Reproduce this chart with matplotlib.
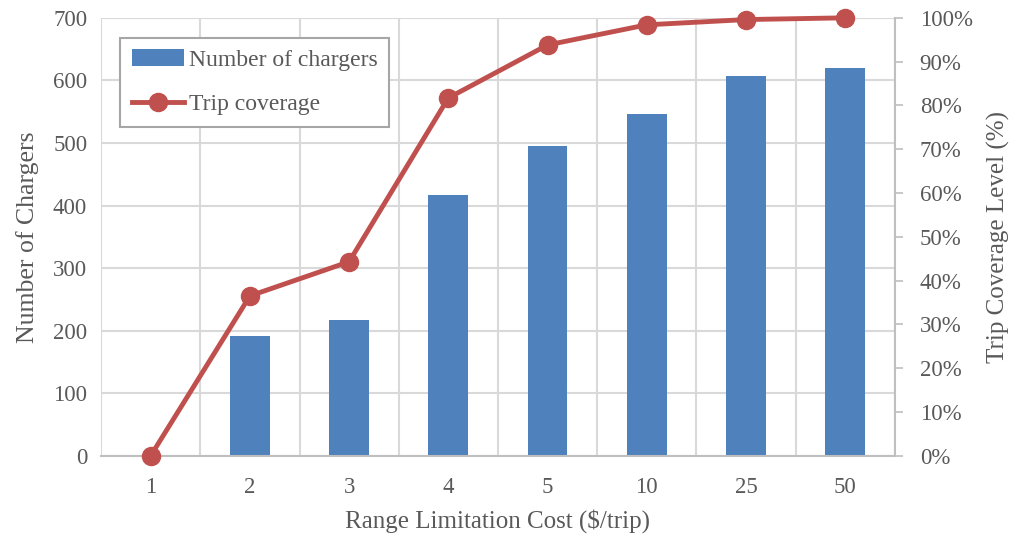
import numpy as np
import matplotlib.pyplot as plt
from matplotlib.ticker import PercentFormatter

plt.rcParams['font.family'] = ['Liberation Serif', 'DejaVu Serif']

categories = ['1', '2', '3', '4', '5', '10', '25', '50']
chargers = [0, 192, 217, 417, 495, 547, 607, 619]
coverage = [0.0, 36.5, 44.3, 81.7, 93.8, 98.4, 99.6, 100.0]

grey = '#595959'
bar_color = '#4f81bd'
line_color = '#c0504d'

fig = plt.figure(figsize=(10.11, 5.4), dpi=100)
ax = fig.add_axes([0.1, 0.156, 0.785, 0.811])
ax2 = ax.twinx()

x = np.arange(len(categories))
ax.bar(x, chargers, width=0.4, color=bar_color, label='Number of chargers', zorder=2)
ax2.plot(x, coverage, color=line_color, lw=3.5, marker='o', ms=13,
         label='Trip coverage', zorder=3, clip_on=False)

ax.set_xlim(-0.5, len(categories) - 0.5)
ax.set_ylim(0, 700)
ax2.set_ylim(0, 100)
ax.set_yticks(range(0, 701, 100))
ax2.set_yticks(range(0, 101, 10))
ax2.yaxis.set_major_formatter(PercentFormatter(decimals=0))

ax.set_xticks(x)
ax.set_xticklabels(categories)
ax.set_xticks(np.arange(-0.5, len(categories)), minor=True)
ax.grid(True, which='minor', axis='x', color='#d9d9d9', lw=1.5, zorder=0)
ax.grid(True, which='major', axis='y', color='#d9d9d9', lw=1.5, zorder=0)
ax.set_axisbelow(True)

for a in (ax, ax2):
    for s in a.spines.values():
        s.set_visible(False)
ax.spines['bottom'].set_visible(True)
ax.spines['bottom'].set_color('#bfbfbf')
ax.spines['bottom'].set_linewidth(1.5)
ax2.spines['right'].set_visible(True)
ax2.spines['right'].set_color('#bfbfbf')
ax2.spines['right'].set_linewidth(1.5)

ax.tick_params(axis='x', which='both', length=0, colors=grey, labelsize=16.5, pad=15)
ax.tick_params(axis='y', length=0, colors=grey, labelsize=16.5, pad=10)
ax2.tick_params(axis='y', length=6, width=1.2, color='#bfbfbf', labelcolor=grey,
                labelsize=16.5, pad=12)

ax.set_xlabel('Range Limitation Cost ($/trip)', fontsize=18, color=grey, labelpad=8)
ax.set_ylabel('Number of Chargers', fontsize=18.5, color=grey, labelpad=10)
ax2.set_ylabel('Trip Coverage Level (%)', fontsize=18, color=grey, labelpad=10)

h1, l1 = ax.get_legend_handles_labels()
h2, l2 = ax2.get_legend_handles_labels()
leg = ax2.legend(h1 + h2, l1 + l2, loc='upper left', bbox_to_anchor=(0.024, 0.955),
                 fontsize=17, frameon=True, fancybox=False, edgecolor='#a6a6a6',
                 framealpha=1, handlelength=2.2, labelspacing=0.95, borderpad=0.5,
                 handletextpad=0.2, borderaxespad=0)
leg.get_frame().set_linewidth(1.5)
for t in leg.get_texts():
    t.set_color(grey)

fig.savefig('out.png', dpi=100)
